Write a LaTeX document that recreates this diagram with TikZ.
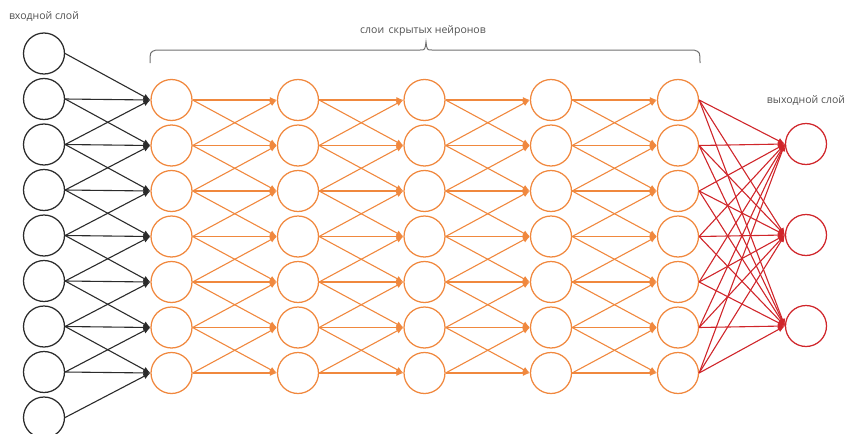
\documentclass[tikz,border=0pt]{standalone}
\usepackage{fontspec}
\setmainfont{Open Sans}
\usetikzlibrary{arrows.meta}
\definecolor{ink}{HTML}{2B2B2B}
\definecolor{orng}{HTML}{F0883E}
\definecolor{rd}{HTML}{D0262B}
\definecolor{lab}{HTML}{505050}
\definecolor{brc}{HTML}{707070}
\begin{document}
\begin{tikzpicture}[x=1pt,y=-1pt,
  neuron/.style={circle,draw,minimum size=41pt,inner sep=0pt,line width=1.25pt},
  inn/.style={neuron,draw=ink},
  hid/.style={neuron,draw=orng},
  outn/.style={neuron,draw=rd},
  conn/.style={line width=1.1pt,-{Latex[length=7pt,width=6pt]}},
  lbl/.style={font=\fontsize{10.5}{12}\selectfont,text=lab,inner sep=0pt}]
\useasboundingbox (0,0) rectangle (847,434);
% input layer
\foreach \i in {1,...,9}
  \node[inn] (i\i) at (44,{53.5+(\i-1)*45.5}) {};
% hidden layers
\foreach \c/\x in {1/171.5,2/298,3/424.5,4/551,5/678}
  \foreach \j in {1,...,7}
    \node[hid] (h\c-\j) at (\x,{100+(\j-1)*45.5}) {};
% output layer
\foreach \k/\y in {1/144,2/235,3/326}
  \node[outn] (o\k) at (806,\y) {};
% labels
\node[lbl] (tin) at (44,17) {входной слой};
\node[lbl] (thid) at (423,31) {слои\, скрытых нейронов};
\node[lbl] (tout) at (806,101) {выходной слой};
% brace
\draw[brc,line width=1pt] (150,63) .. controls (150,52) .. (156,50) -- (420,50)
  .. controls (425,50) .. (426,42) .. controls (427,50) .. (432,50) -- (694,50)
  .. controls (700,52) .. (700,63);
% input -> hidden 1
\foreach \i in {1,...,9}
  \foreach \d in {0,1,2} {
    \pgfmathtruncatemacro\j{\i-\d}
    \ifnum\j>0 \ifnum\j<8
      \draw[conn,ink] (i\i.east) -- (h1-\j.west);
    \fi\fi
  }
% hidden -> hidden
\foreach \c in {1,...,4} {
  \pgfmathtruncatemacro\n{\c+1}
  \foreach \j in {1,...,7}
    \foreach \d in {-1,0,1} {
      \pgfmathtruncatemacro\k{\j+\d}
      \ifnum\k>0 \ifnum\k<8
        \draw[conn,orng] (h\c-\j.east) -- (h\n-\k.west);
      \fi\fi
    }
}
% hidden 5 -> output
\foreach \j in {1,...,7}
  \foreach \k in {1,2,3}
    \draw[conn,rd] (h5-\j.east) -- (o\k.west);
\end{tikzpicture}
\end{document}
